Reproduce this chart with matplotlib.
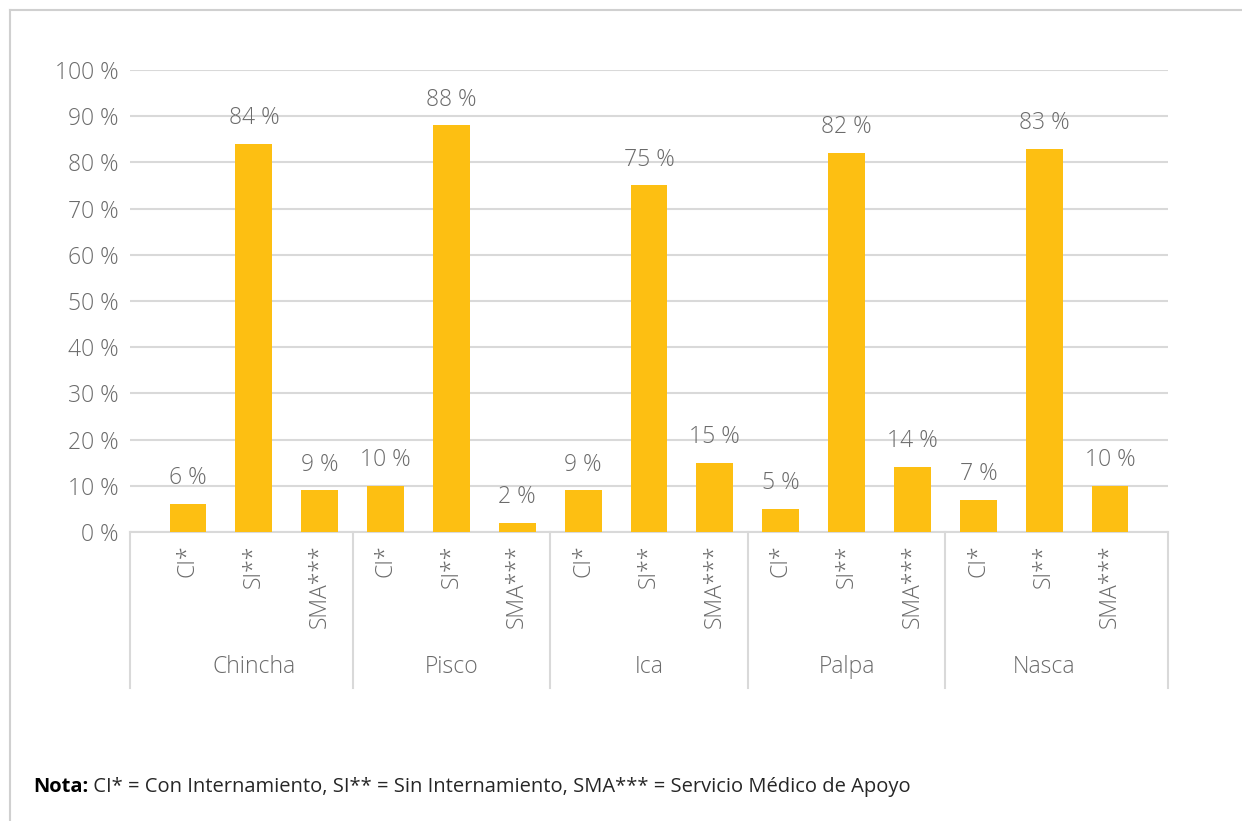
import numpy as np
import matplotlib
matplotlib.use('Agg')
import matplotlib.pyplot as plt
from matplotlib.lines import Line2D
import matplotlib.transforms as mtransforms

plt.rcParams['font.family'] = ['Open Sans', 'DejaVu Sans']
plt.rcParams['font.weight'] = 'light'

provinces = ['Chincha', 'Pisco', 'Ica', 'Palpa', 'Nasca']
services = ['CI*', 'SI**', 'SMA***']
# percentage per province, in the order CI*, SI**, SMA***
shares = [
    [6, 84, 9],
    [10, 88, 2],
    [9, 75, 15],
    [5, 82, 14],
    [7, 83, 10],
]

TEXT = '#6B6B6B'
GRID = '#D9D9D9'
BAR = '#FDBF12'
FS = 16.5

fig = plt.figure(figsize=(12.42, 8.21), dpi=100)
ax = fig.add_axes([130 / 1242, 1 - 532 / 821, 1038 / 1242, 462 / 821])

values = np.array(shares).ravel()
x = np.arange(len(values))
labels = services * len(provinces)

bars = ax.bar(x, values, width=0.56, color=BAR, zorder=3)
for b, v in zip(bars, values):
    ax.annotate(f'{v} %', (b.get_x() + b.get_width() / 2, v),
                xytext=(0, 10), textcoords='offset points',
                ha='center', va='bottom', fontsize=FS, color=TEXT)

ax.set_ylim(0, 100)
ax.set_xlim(-0.88, len(values) - 1 + 0.88)
ax.set_yticks(range(0, 101, 10))
ax.set_yticklabels([f'{t} %' for t in range(0, 101, 10)])
ax.yaxis.grid(True, color=GRID, linewidth=1.5, zorder=0)
ax.set_xticks(x)
ax.set_xticklabels(labels, rotation=90, va='top', ha='center')
ax.tick_params(axis='both', length=0, labelsize=FS, labelcolor=TEXT)
ax.tick_params(axis='x', pad=9)
ax.tick_params(axis='y', pad=8)
for side in ['left', 'right', 'top']:
    ax.spines[side].set_visible(False)
ax.spines['bottom'].set_color(GRID)
ax.spines['bottom'].set_linewidth(1.5)

# province names and separators below the service labels
trans = mtransforms.blended_transform_factory(ax.transData, ax.transAxes)
n = len(services)
edges = [ax.get_xlim()[0]] + [i * n - 0.5 for i in range(1, len(provinces))] + [ax.get_xlim()[1]]
for xe in edges:
    ax.add_line(Line2D([xe, xe], [0, -0.338], transform=trans, color=GRID,
                       linewidth=1.5, clip_on=False))
for i, name in enumerate(provinces):
    ax.text(i * n + 1, -0.292, name, transform=trans, ha='center', va='center',
            fontsize=FS, color=TEXT)

# outer frame (top and left edges)
fig.add_artist(Line2D([10 / 1242, 1], [1 - 10 / 821, 1 - 10 / 821], color='#D0D0D0',
                      linewidth=1.5, transform=fig.transFigure))
fig.add_artist(Line2D([10 / 1242, 10 / 1242], [0, 1 - 10 / 821], color='#D0D0D0',
                      linewidth=1.5, transform=fig.transFigure))

nota = fig.text(33 / 1242, 1 - 792 / 821, 'Nota:', fontsize=14.5, fontweight='bold',
                color='black', ha='left', va='baseline')
ax.annotate(' CI* = Con Internamiento, SI** = Sin Internamiento, SMA*** = Servicio Médico de Apoyo',
            xy=(1, 0), xycoords=nota, ha='left', va='bottom', fontweight='normal',
            fontsize=14.5, color='#262626', annotation_clip=False)

fig.savefig('out.png', dpi=100)
